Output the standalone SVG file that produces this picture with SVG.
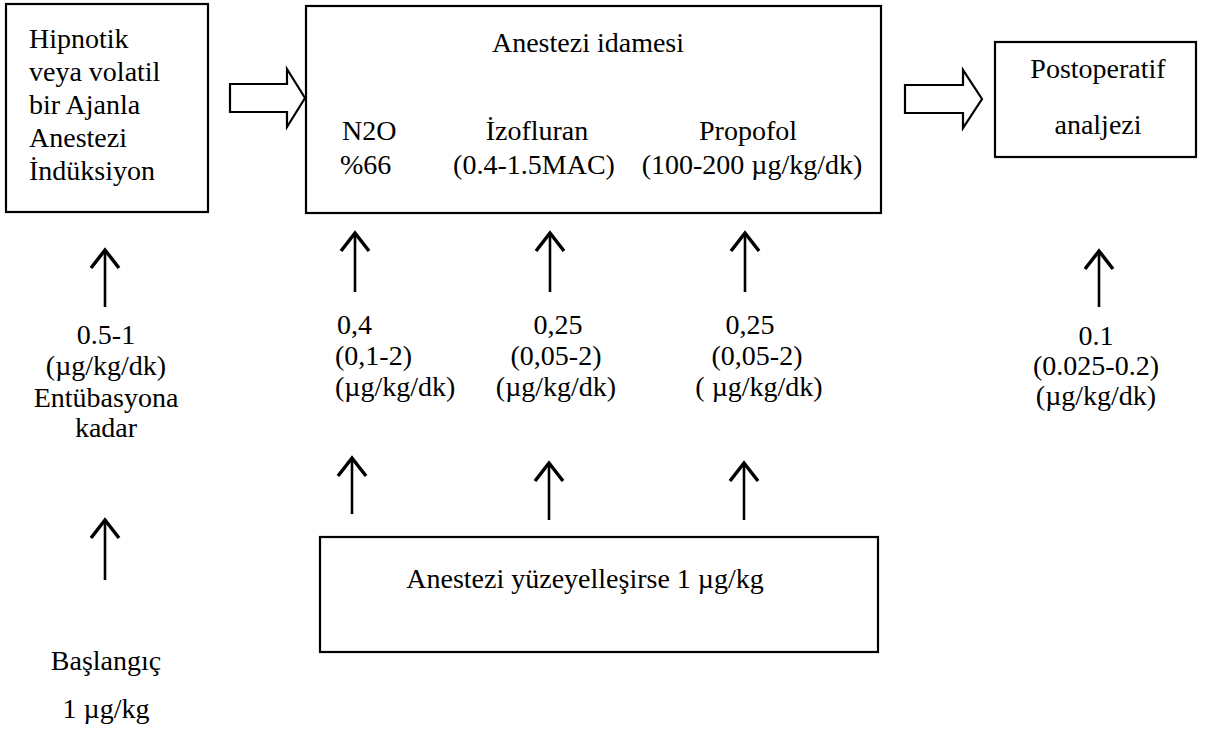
<svg xmlns="http://www.w3.org/2000/svg" width="1213" height="733" viewBox="0 0 1213 733">
<style>
  .box { fill: #fff; stroke: #000; stroke-width: 2.2; }
  .t { font-family: "Liberation Serif", "Times New Roman", serif; font-size: 28px; fill: #000; }
  .c { text-anchor: middle; }
  .big { fill: #fff; stroke: #000; stroke-width: 2.2; stroke-linejoin: miter; }
  .up { stroke: #000; stroke-width: 2.6; fill: none; marker-end: url(#head); }
</style>
<defs>
  <marker id="head" viewBox="-20 -17 23 34" refX="0" refY="0" markerWidth="23" markerHeight="34" markerUnits="userSpaceOnUse" orient="auto">
    <path d="M-18,-14 L0,0 L-18,14" fill="none" stroke="#000" stroke-width="3.5" stroke-linejoin="miter"/>
  </marker>
</defs>
<rect width="1213" height="733" fill="#fff"/>

<g id="induksiyon">
  <rect class="box" x="6" y="4" width="202" height="208"/>
  <text class="t" x="29" y="48">Hipnotik</text>
  <text class="t" x="29" y="81">veya volatil</text>
  <text class="t" x="29" y="114">bir Ajanla</text>
  <text class="t" x="29" y="147">Anestezi</text>
  <text class="t" x="29" y="180">İndüksiyon</text>
</g>

<g id="idame">
  <rect class="box" x="306" y="6" width="575" height="207"/>
  <text class="t c" x="588" y="52">Anestezi idamesi</text>
  <text class="t" x="342" y="140">N2O</text>
  <text class="t" x="340" y="174">%66</text>
  <text class="t c" x="537" y="140">İzofluran</text>
  <text class="t c" x="534" y="174">(0.4-1.5MAC)</text>
  <text class="t c" x="748" y="140">Propofol</text>
  <text class="t c" x="752" y="174">(100-200 µg/kg/dk)</text>
</g>

<g id="postop">
  <rect class="box" x="995" y="42" width="201" height="115"/>
  <text class="t c" x="1098" y="78">Postoperatif</text>
  <text class="t c" x="1098" y="134">analjezi</text>
</g>

<g id="yuzeyel">
  <rect class="box" x="320" y="537" width="558" height="115"/>
  <text class="t c" x="585" y="588">Anestezi yüzeyelleşirse 1 µg/kg</text>
</g>

<g id="label-induksiyon">
  <text class="t c" x="106" y="344">0.5-1</text>
  <text class="t c" x="106" y="375">(µg/kg/dk)</text>
  <text class="t c" x="106" y="407">Entübasyona</text>
  <text class="t c" x="106" y="437">kadar</text>
</g>
<g id="label-baslangic">
  <text class="t c" x="106" y="670">Başlangıç</text>
  <text class="t c" x="106" y="718">1 µg/kg</text>
</g>
<g id="label-n2o">
  <text class="t" x="337" y="334">0,4</text>
  <text class="t" x="335" y="365">(0,1-2)</text>
  <text class="t" x="335" y="396">(µg/kg/dk)</text>
</g>
<g id="label-izofluran">
  <text class="t c" x="558" y="334">0,25</text>
  <text class="t c" x="556" y="365">(0,05-2)</text>
  <text class="t c" x="556" y="396">(µg/kg/dk)</text>
</g>
<g id="label-propofol">
  <text class="t c" x="750" y="334">0,25</text>
  <text class="t c" x="757" y="365">(0,05-2)</text>
  <text class="t c" x="759" y="396">( µg/kg/dk)</text>
</g>
<g id="label-postop">
  <text class="t c" x="1096" y="345">0.1</text>
  <text class="t c" x="1096" y="375">(0.025-0.2)</text>
  <text class="t c" x="1096" y="405">(µg/kg/dk)</text>
</g>

<g id="connectors">
  <polygon class="big" points="230,84 287,84 287,69 305,98 287,127 287,112 230,112"/>
  <polygon class="big" points="905,85 963,85 963,70 982,99 963,128 963,113 905,113"/>
  <line class="up" x1="105" y1="307" x2="105" y2="250"/>
  <line class="up" x1="105" y1="580" x2="105" y2="520"/>
  <line class="up" x1="355" y1="292" x2="355" y2="233"/>
  <line class="up" x1="550" y1="292" x2="550" y2="233"/>
  <line class="up" x1="745" y1="292" x2="745" y2="233"/>
  <line class="up" x1="352" y1="514" x2="352" y2="458"/>
  <line class="up" x1="549" y1="520" x2="549" y2="463"/>
  <line class="up" x1="744" y1="520" x2="744" y2="463"/>
  <line class="up" x1="1099" y1="307" x2="1099" y2="251"/>
</g>
</svg>
